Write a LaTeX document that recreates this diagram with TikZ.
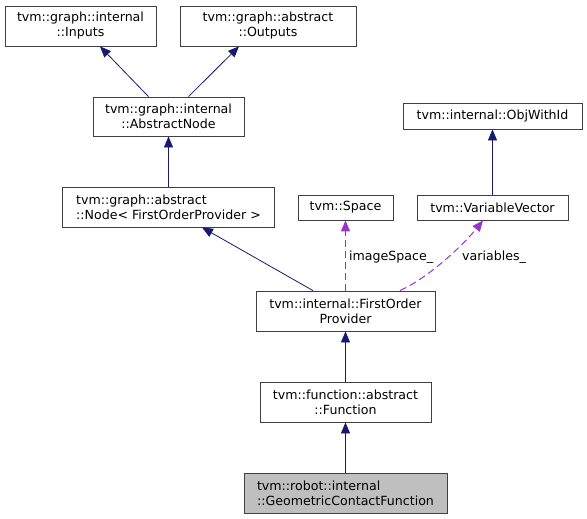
\documentclass[tikz,border=0pt]{standalone}
\usepackage{fontspec}
\setmainfont{DejaVu Sans}
\usetikzlibrary{arrows.meta}
\definecolor{edgeblue}{HTML}{191970}
\definecolor{usepurple}{HTML}{9A32CD}
\tikzset{
    cls/.style={draw=black!75, line width=0.8pt, fill=white, inner sep=2pt,
        font=\fontsize{12.6}{15}\selectfont, align=center},
    hl/.style={cls, fill=black!25, align=left},
    inherit/.style={draw=edgeblue, line width=0.8pt, -{Triangle[length=11pt,width=9pt]}},
    uses/.style={draw=usepurple, line width=1pt, dash pattern=on 7pt off 4pt,
        -{Triangle[length=11pt,width=9pt]}},
    lbl/.style={anchor=west, inner sep=0pt, font=\fontsize{12.6}{15}\selectfont}
}
\begin{document}
\begin{tikzpicture}[x=1pt, y=-1pt]
    \useasboundingbox (0,0) rectangle (587,519);
    \node[cls, minimum width=151pt, minimum height=40pt] (inputs) at (80.5,26) {tvm::graph::internal\\::Inputs};
    \node[cls, minimum width=176pt, minimum height=40pt] (outputs) at (268,26) {tvm::graph::abstract\\::Outputs};
    \node[cls, minimum width=151pt, minimum height=39pt] (absnode) at (168.5,116.5) {tvm::graph::internal\\::AbstractNode};
    \node[cls, align=left, minimum width=212pt, minimum height=40pt] (node) at (168.5,207) {tvm::graph::abstract\\::Node< FirstOrderProvider >};
    \node[cls, minimum width=95pt, minimum height=25pt] (space) at (345.5,207.5) {tvm::Space};
    \node[cls, minimum width=151pt, minimum height=25pt] (varvec) at (492.5,207.5) {tvm::VariableVector};
    \node[cls, minimum width=179pt, minimum height=26pt] (objid) at (492.5,116) {tvm::internal::ObjWithId};
    \node[cls, minimum width=179pt, minimum height=40pt] (fop) at (345.5,311) {tvm::internal::FirstOrder\\Provider};
    \node[cls, minimum width=171pt, minimum height=40pt] (func) at (345.5,402) {tvm::function::abstract\\::Function};
    \node[hl, minimum width=203pt, minimum height=40pt] (gcf) at (345.5,493) {tvm::robot::internal\\::GeometricContactFunction};

    % inheritance
    \draw[inherit] ([xshift=-20pt]absnode.north) -- ([xshift=19.5pt]inputs.south);
    \draw[inherit] ([xshift=20pt]absnode.north) -- ([xshift=-29pt]outputs.south);
    \draw[inherit] (node.north) -- (absnode.south);
    \draw[inherit] ([xshift=-32.5pt]fop.north) -- ([xshift=33.5pt]node.south);
    \draw[inherit] (varvec.north) -- (objid.south);
    \draw[inherit] (func.north) -- (fop.south);
    \draw[inherit] (gcf.north) -- (func.south);

    % members
    \draw[uses] (fop.north) -- (space.south);
    \draw[uses] ([xshift=54.5pt]fop.north) .. controls (430,277) and (465,243) .. ([xshift=-9.5pt]varvec.south);
    \node[lbl] (lblspace) at (349,257) {imageSpace\_};
    \node[lbl] (lblvars) at (462,257) {variables\_};
\end{tikzpicture}
\end{document}
